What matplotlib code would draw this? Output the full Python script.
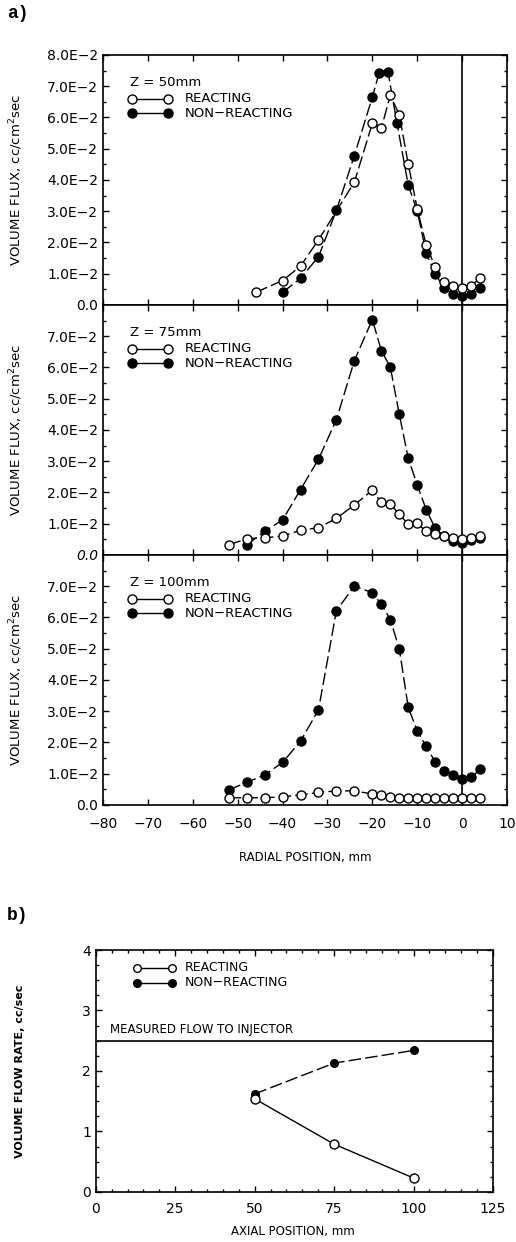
import matplotlib
matplotlib.use("Agg")
import matplotlib.pyplot as plt
from matplotlib.ticker import MultipleLocator, FuncFormatter

plt.rcParams['font.family'] = ['DejaVu Sans']

# radial profiles, volume flux in cc/cm^2 sec (units of 1E-2)
r50_react = [-46, -40, -36, -32, -24, -20, -18, -16, -14, -12, -10, -8, -6, -4, -2, 0, 2, 4]
f50_react = [0.40, 0.78, 1.24, 2.08, 3.93, 5.81, 5.65, 6.71, 6.09, 4.50, 3.08, 1.91, 1.21, 0.72, 0.61, 0.53, 0.62, 0.85]
r50_nonr = [-40, -36, -32, -28, -24, -20, -18.5, -16.5, -14.5, -12, -10, -8, -6, -4, -2, 0, 2, 4]
f50_nonr = [0.40, 0.85, 1.54, 3.03, 4.78, 6.65, 7.42, 7.44, 5.81, 3.83, 3.01, 1.65, 1.00, 0.53, 0.34, 0.27, 0.34, 0.53]

r75_react = [-52, -48, -44, -40, -36, -32, -28, -24, -20, -18, -16, -14, -12, -10, -8, -6, -4, -2, 0, 2, 4]
f75_react = [0.32, 0.52, 0.55, 0.60, 0.79, 0.87, 1.17, 1.60, 2.07, 1.68, 1.63, 1.30, 0.98, 1.01, 0.75, 0.66, 0.60, 0.55, 0.50, 0.55, 0.62]
r75_nonr = [-48, -44, -40, -36, -32, -28, -24, -20, -18, -16, -14, -12, -10, -8, -6, -4, -2, 0, 2, 4]
f75_nonr = [0.32, 0.75, 1.12, 2.09, 3.06, 4.33, 6.22, 7.53, 6.54, 6.01, 4.50, 3.09, 2.24, 1.45, 0.85, 0.60, 0.43, 0.38, 0.47, 0.53]

r100_react = [-52, -48, -44, -40, -36, -32, -28, -24, -20, -18, -16, -14, -12, -10, -8, -6, -4, -2, 0, 2, 4]
f100_react = [0.23, 0.23, 0.23, 0.26, 0.32, 0.40, 0.45, 0.45, 0.35, 0.31, 0.26, 0.23, 0.21, 0.23, 0.22, 0.21, 0.21, 0.21, 0.23, 0.21, 0.21]
r100_nonr = [-52, -48, -44, -40, -36, -32, -28, -24, -20, -18, -16, -14, -12, -10, -8, -6, -4, -2, 0, 2, 4]
f100_nonr = [0.48, 0.72, 0.96, 1.36, 2.04, 3.04, 6.22, 7.00, 6.79, 6.43, 5.93, 5.00, 3.12, 2.37, 1.87, 1.38, 1.09, 0.96, 0.82, 0.88, 1.14]

panels = [("Z = 50mm", r50_react, f50_react, r50_nonr, f50_nonr),
          ("Z = 75mm", r75_react, f75_react, r75_nonr, f75_nonr),
          ("Z = 100mm", r100_react, f100_react, r100_nonr, f100_nonr)]

# integrated flow rate vs axial position
axial = [50, 75, 100]
q_react = [1.54, 0.79, 0.23]
q_nonr = [1.62, 2.13, 2.34]
q_injector = 2.5

fig = plt.figure(figsize=(5.16, 12.42), dpi=100)

dash = (0, (9, 3))
tick_font = 10


def ytick_fmt(v, pos):
    if abs(v) < 1e-9:
        return "0.0"
    return "%.1fE\u22122" % v


def legend_rows(ax, xs, ys, ms, fs, txt_x):
    ax.plot(xs, [ys[0], ys[0]], transform=ax.transAxes, color='k', lw=1.0,
            marker='o', ms=ms, mfc='white', mec='k', mew=1.0, clip_on=False)
    ax.text(txt_x, ys[0], "REACTING", transform=ax.transAxes, va='center', fontsize=fs)
    ax.plot(xs, [ys[1], ys[1]], transform=ax.transAxes, color='k', lw=1.0,
            marker='o', ms=ms, mfc='k', mec='k', clip_on=False)
    ax.text(txt_x, ys[1], "NON\u2212REACTING", transform=ax.transAxes, va='center', fontsize=fs)


bottoms = [0.7545, 0.5532, 0.3519]
h = 0.2013
for i, (title, rr, fr, rn, fn) in enumerate(panels):
    ax = fig.add_axes([0.1996, bottoms[i], 0.783, h])
    ax.plot(rr, fr, color='k', lw=1.0, ls=dash, marker='o', ms=6.5,
            mfc='white', mec='k', mew=1.0, zorder=3)
    ax.plot(rn, fn, color='k', lw=1.0, ls=dash, marker='o', ms=6.5,
            mfc='k', mec='k', zorder=2)
    ax.axvline(0, color='k', lw=1.2, zorder=1)
    ax.set_xlim(-80, 10)
    ax.set_ylim(0, 8)
    ax.xaxis.set_major_locator(MultipleLocator(10))
    ax.yaxis.set_major_locator(MultipleLocator(1))
    ax.yaxis.set_minor_locator(MultipleLocator(0.5))
    ax.yaxis.set_major_formatter(FuncFormatter(ytick_fmt))
    ax.tick_params(direction='in', top=True, right=True, which='both',
                   labelsize=tick_font, length=4, width=1)
    ax.tick_params(axis='x', pad=9)
    ax.tick_params(which='minor', length=2)
    if i > 0:
        ax.set_yticks([0, 1, 2, 3, 4, 5, 6, 7])
        ax.set_yticks([0.5, 1.5, 2.5, 3.5, 4.5, 5.5, 6.5, 7.5], minor=True)
        ax.set_yticklabels(["0.0"] + ["%.1fE\u22122" % v for v in range(1, 8)])
        if i == 1:
            ax.get_yticklabels()[0].set_style('italic')
    if i < 2:
        ax.tick_params(labelbottom=False)
    else:
        ax.set_xlabel("RADIAL POSITION, mm", fontsize=8.5, labelpad=14)
    for sp in ax.spines.values():
        sp.set_linewidth(1.2)
    ax.set_ylabel("VOLUME FLUX, cc/cm$^2$sec", fontsize=9.5)
    ax.yaxis.set_label_coords(-0.193, 0.5)
    ax.text(0.067, 0.89, title, transform=ax.transAxes, va='center', fontsize=9.5)
    legend_rows(ax, [0.072, 0.161], [0.825, 0.766], 6.5, 9.5, 0.203)

fig.text(0.014, 1 - 14 / 1242, "a)", fontsize=13, fontweight='bold', family='Liberation Mono', va='center')
fig.text(0.014, 1 - 915 / 1242, "b)", fontsize=13, fontweight='bold', family='Liberation Mono', va='center')

axb = fig.add_axes([0.1855, 0.0403, 0.770, 0.1948])
axb.plot(axial, q_nonr, color='k', lw=1.0, ls=dash, marker='o', ms=5.5, mfc='k', mec='k', zorder=2)
axb.plot(axial, q_react, color='k', lw=1.0, marker='o', ms=6.5, mfc='white', mec='k', mew=1.0, zorder=3)
axb.axhline(q_injector, color='k', lw=1.2)
axb.text(4.5, q_injector + 0.08, "MEASURED FLOW TO INJECTOR", fontsize=8.5, va='bottom')
axb.set_xlim(0, 125)
axb.set_ylim(0, 4)
axb.xaxis.set_major_locator(MultipleLocator(25))
axb.xaxis.set_minor_locator(MultipleLocator(5))
axb.yaxis.set_major_locator(MultipleLocator(1))
axb.yaxis.set_minor_locator(MultipleLocator(0.25))
axb.tick_params(direction='in', top=True, right=True, which='both', labelsize=10, length=4, width=1)
axb.tick_params(axis='x', pad=7)
axb.tick_params(which='minor', length=2)
for sp in axb.spines.values():
    sp.set_linewidth(1.2)
axb.set_ylabel("VOLUME FLOW RATE, cc/sec", fontsize=8, fontweight='bold')
axb.yaxis.set_label_coords(-0.178, 0.5)
fig.text(293 / 516, 0.003, "AXIAL POSITION, mm", fontsize=8.5, ha='center', va='bottom')
legend_rows(axb, [0.104, 0.192], [0.926, 0.864], 5.5, 9, 0.225)

plt.savefig("out.png", dpi=100)
